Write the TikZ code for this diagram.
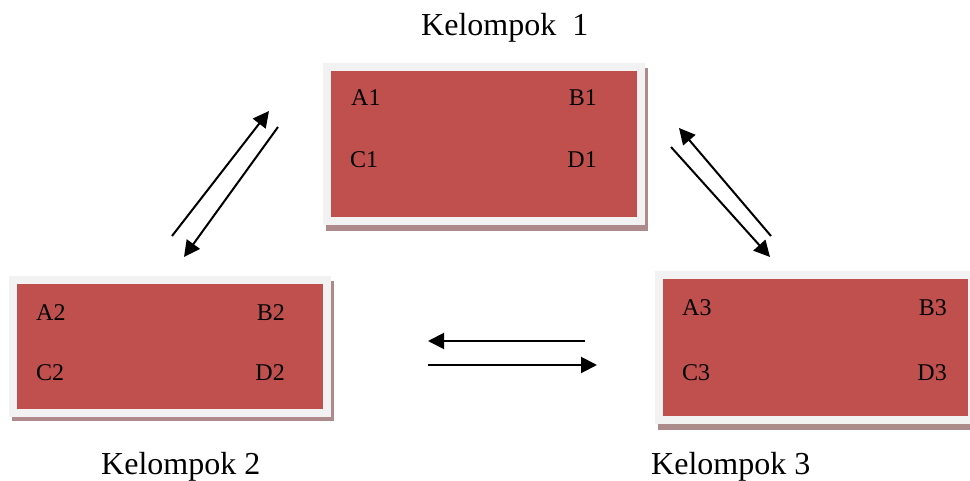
\documentclass[tikz,border=0pt]{standalone}
\usepackage{fontspec}
\setmainfont{Liberation Serif}
\usetikzlibrary{arrows.meta}
\definecolor{boxred}{RGB}{192,80,77}
\definecolor{boxrim}{RGB}{242,242,242}
\definecolor{boxshadow}{RGB}{173,138,139}
\tikzset{
  rim/.style={draw=boxrim, line width=8pt, fill=boxred},
  shade/.style={fill=boxshadow},
  itemL/.style={anchor=base west, inner sep=0pt, font=\fontsize{24}{26}\selectfont},
  itemR/.style={anchor=base east, inner sep=0pt, font=\fontsize{24}{26}\selectfont},
  title/.style={anchor=base west, inner sep=0pt, font=\fontsize{32}{34}\selectfont},
  flow/.style={line width=2pt, -{Triangle[length=16pt, width=16pt]}}
}
\begin{document}
\begin{tikzpicture}[x=1pt,y=-1pt]
\useasboundingbox (0,0) rectangle (970,481);
\clip (0,0) rectangle (970,481);
% box 1
\fill[shade] (326,68) rectangle (648,231);
\draw[rim] (327,67) rectangle (640.5,221.5);
\node[itemL] (a1) at (351,106) {A1};
\node[itemR] (b1) at (597,106) {B1};
\node[itemL] (c1) at (350,168) {C1};
\node[itemR] (d1) at (597,168) {D1};
% box 2
\fill[shade] (12,281) rectangle (334,421);
\draw[rim] (13,280) rectangle (327,412.5);
\node[itemL] (a2) at (36,320) {A2};
\node[itemR] (b2) at (285,320) {B2};
\node[itemL] (c2) at (36,381) {C2};
\node[itemR] (d2) at (285,381) {D2};
% box 3
\fill[shade] (658,276) rectangle (980,430);
\draw[rim] (659,275) rectangle (972,420);
\node[itemL] (a3) at (682,316) {A3};
\node[itemR] (b3) at (947,316) {B3};
\node[itemL] (c3) at (682,380) {C3};
\node[itemR] (d3) at (947,380) {D3};
% titles
\node[title] (k1) at (421,36) {Kelompok\ \ 1};
\node[title] (k2) at (101,474) {Kelompok 2};
\node[title] (k3) at (651,474) {Kelompok 3};
% arrow end points
\coordinate (p1s) at (172,236);
\coordinate (p1e) at (269,111);
\coordinate (p2s) at (278,127);
\coordinate (p2e) at (184,257);
\coordinate (q1s) at (771,236);
\coordinate (q1e) at (679,128);
\coordinate (q2s) at (671,147);
\coordinate (q2e) at (770,257);
\coordinate (r1s) at (585,341);
\coordinate (r1e) at (428,341);
\coordinate (r2s) at (428,365);
\coordinate (r2e) at (597,365);
\draw[flow] (p1s) -- (p1e);
\draw[flow] (p2s) -- (p2e);
\draw[flow] (q1s) -- (q1e);
\draw[flow] (q2s) -- (q2e);
\draw[flow] (r1s) -- (r1e);
\draw[flow] (r2s) -- (r2e);
\end{tikzpicture}
\end{document}
